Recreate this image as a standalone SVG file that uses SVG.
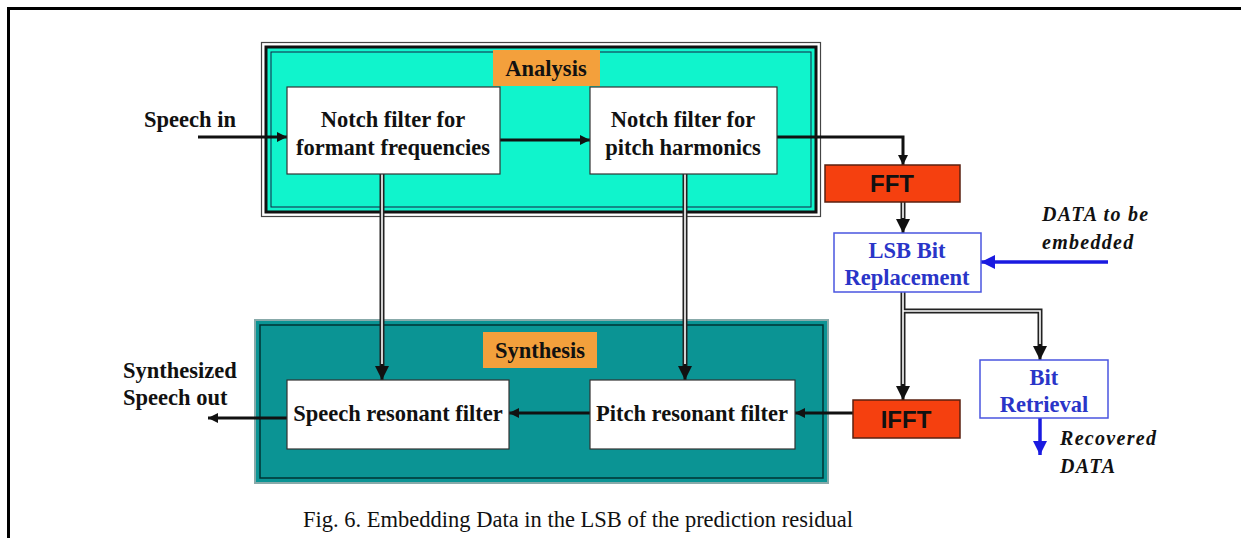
<svg xmlns="http://www.w3.org/2000/svg" width="1241" height="538" viewBox="0 0 1241 538">
<style>
.bt{font-family:"Liberation Serif","Times New Roman",serif;font-weight:bold;font-size:22.5px;fill:#111;text-anchor:middle}
.bl{font-family:"Liberation Serif","Times New Roman",serif;font-weight:bold;font-size:22.5px;fill:#2a35c8;text-anchor:middle}
.it{font-family:"Liberation Serif","Times New Roman",serif;font-weight:bold;font-style:italic;font-size:20px;letter-spacing:1.3px;fill:#111}
.ff{font-family:"Liberation Sans",Arial,sans-serif;font-weight:bold;font-size:24px;fill:#111;text-anchor:middle}
.box{fill:#fff;stroke:#333;stroke-width:1.2}
.bbox{fill:#fff;stroke:#4a55e0;stroke-width:1.5}
.red{fill:#f5400f;stroke:#5a2010;stroke-width:1.5}
.lbl{fill:#f3a03c}
.ln{fill:none;stroke:#111;stroke-width:3}
.dbo{fill:none;stroke:#222;stroke-width:5}
.dbi{fill:none;stroke:#fff;stroke-width:1.6}
.blu{fill:none;stroke:#1a1ae0;stroke-width:3.5}
</style>
<defs>
<marker id="ah" viewBox="0 0 10 10" refX="10" refY="5" markerWidth="10" markerHeight="10" markerUnits="userSpaceOnUse" orient="auto"><path d="M0,0 L10,5 L0,10 z" fill="#111"/></marker>
<marker id="ahd" viewBox="0 0 10 10" refX="10" refY="5" markerWidth="14" markerHeight="14" markerUnits="userSpaceOnUse" orient="auto"><path d="M0,0 L10,5 L0,10 z" fill="#111"/></marker>
<marker id="ahb" viewBox="0 0 10 10" refX="10" refY="5" markerWidth="14" markerHeight="14" markerUnits="userSpaceOnUse" orient="auto"><path d="M0,0 L10,5 L0,10 z" fill="#1a1ae0"/></marker>
</defs>
<rect width="1241" height="538" fill="#fff"/>
<path d="M8.5,538 V8.5 H1241" fill="none" stroke="#000" stroke-width="3"/>

<g id="analysis">
<rect x="261.5" y="42.5" width="559" height="174" fill="#fff" stroke="#444" stroke-width="1.2"/>
<rect x="266" y="47" width="550" height="165" fill="#10f4cc" stroke="#111" stroke-width="3"/>
<rect x="271" y="52" width="540" height="155" fill="none" stroke="#124" stroke-width="1"/>
<rect class="lbl" x="493" y="50" width="107" height="36"/>
<text class="bt" x="546" y="76">Analysis</text>
</g>
<g id="synthesis">
<rect x="255" y="320" width="573" height="163" fill="#0b9494" stroke="#8aa" stroke-width="2"/>
<rect x="260" y="325" width="563" height="153" fill="none" stroke="#033" stroke-width="1.5"/>
<rect class="lbl" x="483" y="332" width="114" height="36"/>
<text class="bt" x="540" y="358">Synthesis</text>
</g>

<g id="connectors">
<line class="ln" x1="198" y1="137" x2="287" y2="137" marker-end="url(#ah)"/>
<line class="ln" x1="500" y1="140" x2="590" y2="140" marker-end="url(#ah)"/>
<path class="ln" d="M777,137 H903 V165" marker-end="url(#ah)"/>
<path class="dbo" d="M903,202 V220"/><path class="dbi" d="M903,202 V220"/>
<line class="ln" x1="903" y1="218" x2="903" y2="233" marker-end="url(#ahd)"/>
<line class="blu" x1="1108" y1="262" x2="981" y2="262" marker-end="url(#ahb)"/>
<path class="dbo" d="M903,292 V386 M903,311 H1040 V346"/><path class="dbi" d="M903,292 V386 M903,311 H1040 V346"/>
<line class="ln" x1="903" y1="384" x2="903" y2="400" marker-end="url(#ahd)"/>
<line class="ln" x1="1040" y1="344" x2="1040" y2="360" marker-end="url(#ahd)"/>
<line class="blu" x1="1040" y1="418" x2="1040" y2="455" marker-end="url(#ahb)"/>
<line class="ln" x1="853" y1="413" x2="795" y2="413" marker-end="url(#ah)"/>
<line class="ln" x1="590" y1="413" x2="509" y2="413" marker-end="url(#ah)"/>
<line class="ln" x1="287" y1="418" x2="208" y2="418" marker-end="url(#ah)"/>
<path class="dbo" d="M382,174 V366 M685,174 V366"/><path class="dbi" d="M382,174 V366 M685,174 V366"/>
<line class="ln" x1="382" y1="364" x2="382" y2="380" marker-end="url(#ahd)"/>
<line class="ln" x1="685" y1="364" x2="685" y2="380" marker-end="url(#ahd)"/>
</g>

<g id="speech-in"><text class="bt" x="190" y="127">Speech in</text></g>
<g id="notch1">
<rect class="box" x="287" y="87" width="213" height="87"/>
<text class="bt" x="393" y="127">Notch filter for</text>
<text class="bt" x="393" y="155">formant frequencies</text>
</g>
<g id="notch2">
<rect class="box" x="590" y="87" width="187" height="87"/>
<text class="bt" x="683" y="127">Notch filter for</text>
<text class="bt" x="683" y="155">pitch harmonics</text>
</g>
<g id="fft">
<rect class="red" x="825" y="165" width="135" height="37"/>
<text class="ff" x="892" y="192">FFT</text>
</g>
<g id="lsb">
<rect class="bbox" x="834" y="233" width="147" height="59"/>
<text class="bl" x="907" y="258">LSB Bit</text>
<text class="bl" x="907" y="285">Replacement</text>
</g>
<g id="data-in">
<text class="it" x="1042" y="221">DATA to be</text>
<text class="it" x="1042" y="249">embedded</text>
</g>
<g id="bit-retrieval">
<rect class="bbox" x="980" y="360" width="128" height="58"/>
<text class="bl" x="1044" y="385">Bit</text>
<text class="bl" x="1044" y="412">Retrieval</text>
</g>
<g id="recovered">
<text class="it" x="1060" y="445">Recovered</text>
<text class="it" x="1060" y="473">DATA</text>
</g>
<g id="ifft">
<rect class="red" x="853" y="400" width="107" height="38"/>
<text class="ff" x="906" y="428">IFFT</text>
</g>
<g id="pitch-res">
<rect class="box" x="590" y="380" width="205" height="69"/>
<text class="bt" x="692" y="421">Pitch resonant filter</text>
</g>
<g id="speech-res">
<rect class="box" x="287" y="380" width="222" height="69"/>
<text class="bt" x="398" y="421">Speech resonant filter</text>
</g>
<g id="speech-out">
<text class="bt" x="123" y="378" style="text-anchor:start">Synthesized</text>
<text class="bt" x="123" y="405" style="text-anchor:start">Speech out</text>
</g>
<text x="578" y="527" font-family="Liberation Serif,'Times New Roman',serif" font-size="22.5" fill="#111" text-anchor="middle">Fig. 6. Embedding Data in the LSB of the prediction residual</text>
</svg>
